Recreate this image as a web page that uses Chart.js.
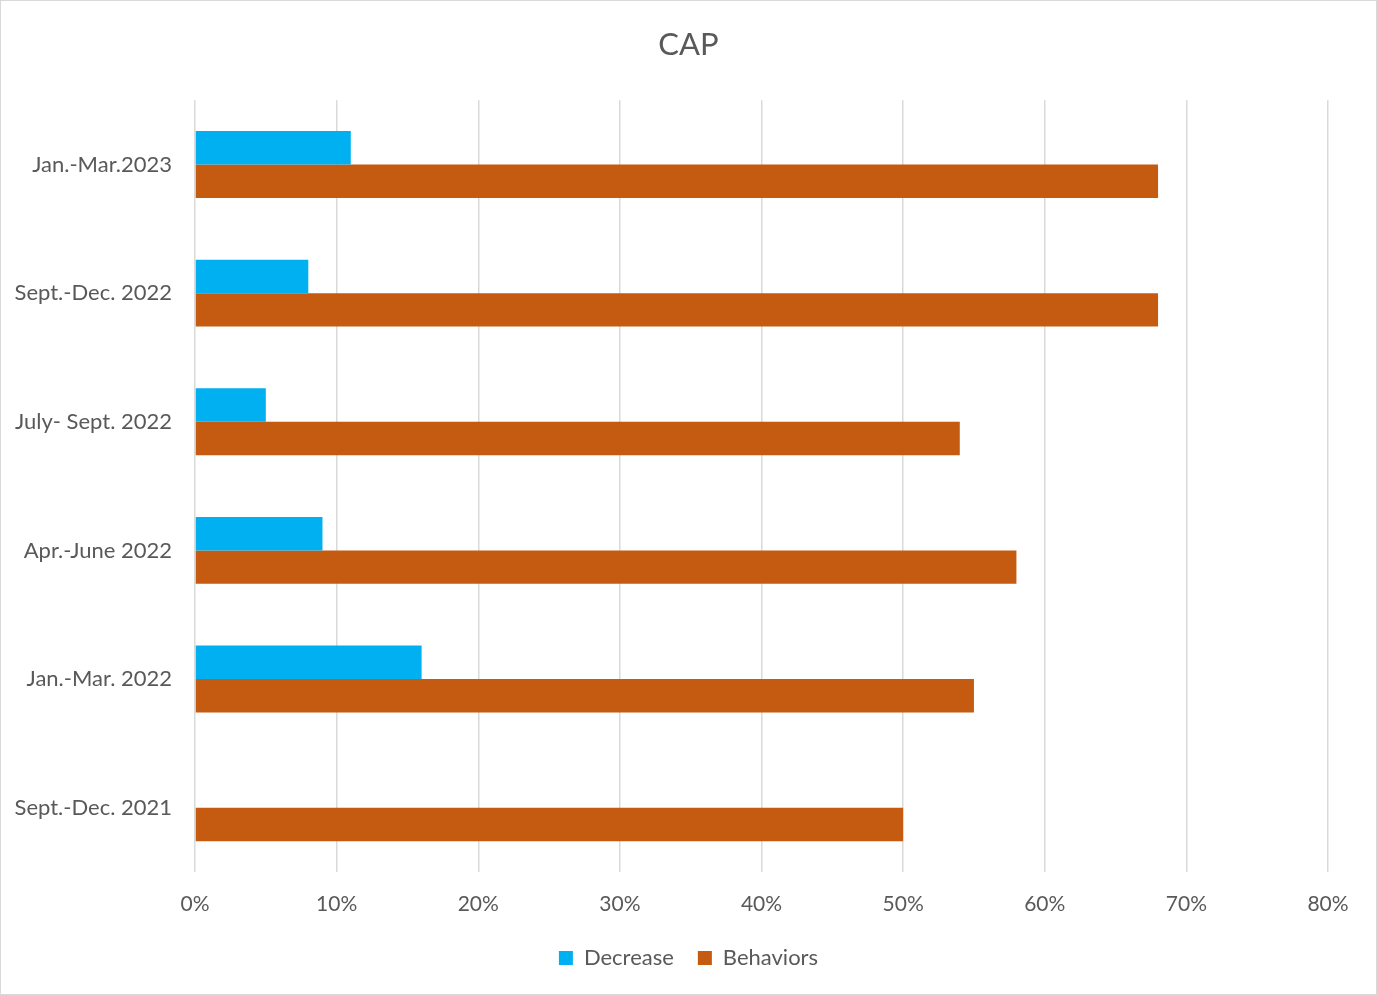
<!DOCTYPE html>
<html>
<head>
<meta charset="utf-8">
<script src="https://cdn.jsdelivr.net/npm/chart.js@4"></script>
<style>
  html, body { margin: 0; padding: 0; background: #fff; }
  #wrap { width: 1377px; height: 995px; box-sizing: border-box; border: 1px solid #d9d9d9; }
</style>
</head>
<body>
<div id="wrap"><canvas id="capChart" width="1375" height="993"></canvas></div>
<script>
const categories = ["Jan.-Mar.2023", "Sept.-Dec. 2022", "July- Sept. 2022", "Apr.-June 2022", "Jan.-Mar. 2022", "Sept.-Dec. 2021"];
const decrease = [11, 8, 5, 9, 16, null];
const behaviors = [68, 68, 54, 58, 55, 50];
const xTicks = [0, 10, 20, 30, 40, 50, 60, 70, 80];

const FONT = "Lato, 'Open Sans', sans-serif";
const GREY = "#595959";

new Chart(document.getElementById("capChart"), {
  type: "bar",
  data: {
    labels: categories,
    datasets: [
      { label: "Decrease", data: decrease, backgroundColor: "#00B0F0" },
      { label: "Behaviors", data: behaviors, backgroundColor: "#C55A11" }
    ]
  },
  options: {
    indexAxis: "y",
    responsive: false,
    animation: false,
    categoryPercentage: 0.52,
    barPercentage: 1,
    layout: { padding: { left: 0, right: 0, top: 0, bottom: 15 } },
    plugins: {
      title: {
        display: true,
        text: "CAP",
        color: GREY,
        font: { family: FONT, size: 31, weight: "normal" },
        padding: { top: 25, bottom: 37 }
      },
      legend: {
        position: "bottom",
        labels: {
          color: GREY,
          font: { family: FONT, size: 22 },
          boxWidth: 14,
          boxHeight: 14,
          padding: 24
        }
      },
      tooltip: { enabled: false }
    },
    scales: {
      x: {
        min: 0,
        max: 80,
        afterBuildTicks: axis => { axis.ticks = xTicks.map(v => ({ value: v })); },
        grid: { color: "#d9d9d9", lineWidth: 1.5, drawTicks: false },
        border: { display: false },
        ticks: {
          color: GREY,
          font: { family: FONT, size: 21 },
          padding: 20,
          callback: v => v + "%"
        },
        afterFit: axis => { axis.height = 51; axis.paddingRight = 48; }
      },
      y: {
        grid: { display: false },
        border: { display: false },
        ticks: { color: GREY, font: { family: FONT, size: 22 }, padding: 15 },
        afterFit: axis => { axis.width = 194; }
      }
    }
  }
});
</script>
</body>
</html>
